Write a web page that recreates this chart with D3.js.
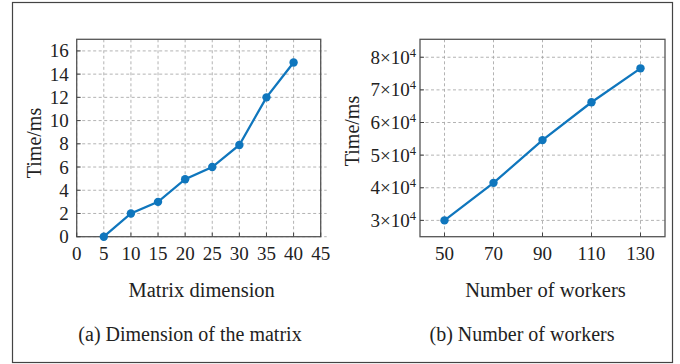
<!DOCTYPE html>
<html>
<head>
<meta charset="utf-8">
<script src="https://cdn.jsdelivr.net/npm/d3@7"></script>
<style>
  body { margin: 0; background: #fff; }
  text { font-family: "Liberation Serif", "Times New Roman", serif; fill: #222; }
</style>
</head>
<body>
<script>
// data, panel (a)
var dimX = [5, 10, 15, 20, 25, 30, 35, 40];
var dimTime = [0, 2, 3, 4.95, 6, 7.9, 12, 15];
var dimXTicks = [0, 5, 10, 15, 20, 25, 30, 35, 40, 45];
var dimYTicks = [0, 2, 4, 6, 8, 10, 12, 14, 16];

// data, panel (b)
var workX = [50, 70, 90, 110, 130];
var workTime = [30000, 41500, 54600, 66200, 76600];
var workXTicks = [50, 70, 90, 110, 130];
var workYTicks = [30000, 40000, 50000, 60000, 70000, 80000];

var width = 680, height = 364;
var blue = "#0f76bd";

var svg = d3.select("body").append("svg")
    .attr("width", width)
    .attr("height", height);

// outer frame
svg.append("rect")
    .attr("x", 12.5).attr("y", 2.5)
    .attr("width", 660).attr("height", 360)
    .attr("fill", "none")
    .attr("stroke", "#444")
    .attr("stroke-width", 1.2);

function panel(o) {
  var x = d3.scaleLinear().domain(o.xDomain).range([o.left, o.right]);
  var y = d3.scaleLinear().domain(o.yDomain).range([o.bottom, o.top]);
  var g = svg.append("g");

  // grid
  g.selectAll(".vg").data(o.xTicks).enter().append("line")
      .attr("x1", function (d) { return x(d); })
      .attr("x2", function (d) { return x(d); })
      .attr("y1", o.top).attr("y2", o.bottom)
      .attr("stroke", "#aaa").attr("stroke-dasharray", "3,2.5").attr("stroke-width", 0.9);
  g.selectAll(".hg").data(o.yTicks).enter().append("line")
      .attr("x1", o.left).attr("x2", o.right + o.gridOver)
      .attr("y1", function (d) { return y(d); })
      .attr("y2", function (d) { return y(d); })
      .attr("stroke", "#aaa").attr("stroke-dasharray", "3,2.5").attr("stroke-width", 0.9);

  // frame
  g.append("rect")
      .attr("x", o.left).attr("y", o.top)
      .attr("width", o.right - o.left).attr("height", o.bottom - o.top)
      .attr("fill", "none").attr("stroke", "#555").attr("stroke-width", 1.3);

  // tick marks (inward)
  g.selectAll(".xt").data(o.xTicks).enter().append("line")
      .attr("x1", function (d) { return x(d); })
      .attr("x2", function (d) { return x(d); })
      .attr("y1", o.bottom).attr("y2", o.bottom - 4)
      .attr("stroke", "#444");
  g.selectAll(".yt").data(o.yTicks).enter().append("line")
      .attr("x1", o.left).attr("x2", o.left + 4)
      .attr("y1", function (d) { return y(d); })
      .attr("y2", function (d) { return y(d); })
      .attr("stroke", "#444");

  // tick labels
  g.selectAll(".xl").data(o.xTicks).enter().append("text")
      .attr("x", function (d) { return x(d); })
      .attr("y", o.bottom + 23)
      .attr("text-anchor", "middle")
      .attr("font-size", 19)
      .text(function (d) { return d; });

  var yl = g.selectAll(".yl").data(o.yTicks).enter().append("text")
      .attr("x", o.left - o.yLabelGap)
      .attr("y", function (d) { return y(d) + 6.5; })
      .attr("text-anchor", "end")
      .attr("font-size", 19);
  if (o.sci) {
    yl.each(function (d) {
      var t = d3.select(this);
      t.append("tspan").text((d / 10000) + "\u00d710");
      t.append("tspan").attr("dy", -7).attr("font-size", 12.5).text("4");
    });
  } else {
    yl.text(function (d) { return d; });
  }

  // line + markers
  var pts = o.xs.map(function (d, i) { return [d, o.ys[i]]; });
  g.append("path")
      .datum(pts)
      .attr("fill", "none")
      .attr("stroke", blue)
      .attr("stroke-width", 2.3)
      .attr("d", d3.line().x(function (d) { return x(d[0]); }).y(function (d) { return y(d[1]); }));
  g.selectAll(".pt").data(pts).enter().append("circle")
      .attr("cx", function (d) { return x(d[0]); })
      .attr("cy", function (d) { return y(d[1]); })
      .attr("r", 4.2)
      .attr("fill", blue);

  // titles
  var cx = (o.left + o.right) / 2;
  g.append("text")
      .attr("x", cx + 3).attr("y", 297)
      .attr("text-anchor", "middle").attr("font-size", 20.5)
      .text(o.xTitle);
  g.append("text")
      .attr("transform", "translate(" + o.yTitleX + "," + o.yTitleY + ") rotate(-90)")
      .attr("text-anchor", "middle").attr("font-size", 20)
      .text("Time/ms");
  g.append("text")
      .attr("x", o.capX).attr("y", 341)
      .attr("text-anchor", "middle").attr("font-size", 20)
      .text(o.caption);
}

panel({
  left: 76.7, right: 320.7, top: 39.3, bottom: 236.7,
  xDomain: [0, 45], yDomain: [0, 17],
  xTicks: dimXTicks, yTicks: dimYTicks,
  xs: dimX, ys: dimTime,
  gridOver: 6, yLabelGap: 8, sci: false,
  xTitle: "Matrix dimension", caption: "(a) Dimension of the matrix",
  yTitleX: 41, yTitleY: 143, capX: 190
});

panel({
  left: 420, right: 665, top: 39.3, bottom: 236.7,
  xDomain: [40, 140], yDomain: [25000, 85500],
  xTicks: workXTicks, yTicks: workYTicks,
  xs: workX, ys: workTime,
  gridOver: 0, yLabelGap: 4, sci: true,
  xTitle: "Number of workers", caption: "(b) Number of workers",
  yTitleX: 359, yTitleY: 131, capX: 522
});
</script>
</body>
</html>
